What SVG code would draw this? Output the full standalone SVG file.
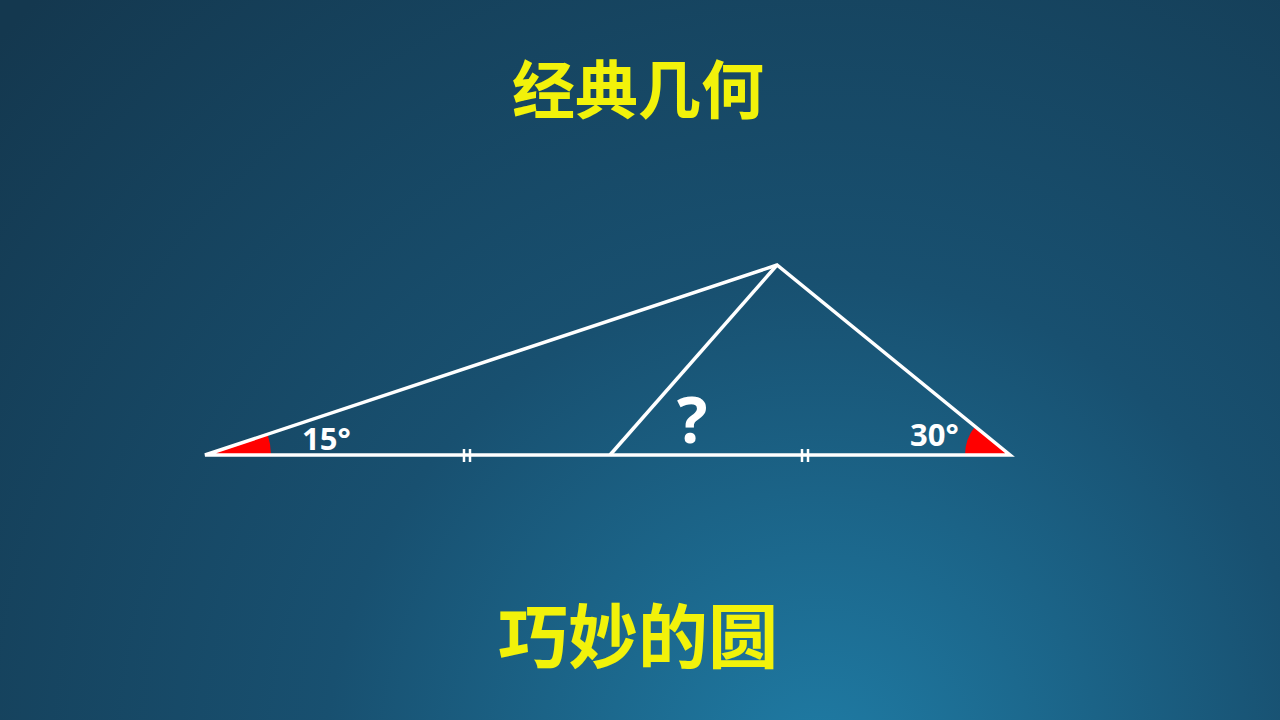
<svg xmlns="http://www.w3.org/2000/svg" width="1280" height="720" viewBox="0 0 1280 720">
<defs>
<radialGradient id="bg" cx="820" cy="770" r="1100" gradientUnits="userSpaceOnUse">
<stop offset="0" stop-color="#1f7ca5"/>
<stop offset="0.45" stop-color="#185070"/>
<stop offset="1" stop-color="#14384f"/>
</radialGradient>
<style>
.title{font-family:"Noto Sans CJK SC","Noto Sans",sans-serif;font-weight:bold;fill:#f2f20a;text-anchor:middle}
.edge{stroke:#ffffff;stroke-width:3.5;fill:none;stroke-linejoin:miter}
.tick{stroke:#ffffff;stroke-width:2.5}
.lbl{font-family:"Open Sans","Liberation Sans",sans-serif;font-weight:bold;fill:#ffffff}
.ang{fill:#ff0000}
</style>
</defs>
<rect width="1280" height="720" fill="url(#bg)"/>
<text class="title" x="638" y="113" font-size="63">经典几何</text>
<text class="title" x="638" y="663" font-size="70">巧妙的圆</text>
<g id="angles">
<path class="ang" d="M205,455 L271,455 A66,66 0 0 0 267.6,434.3 Z"/>
<path class="ang" d="M1010,455 L965,455 A45,45 0 0 1 975.1,426.5 Z"/>
</g>
<g id="connectors">
<path class="edge" d="M205,455 L1010,455 L777,265 Z"/>
<line class="edge" x1="610" y1="455" x2="777" y2="265"/>
<line class="tick" x1="464" y1="449" x2="464" y2="462"/>
<line class="tick" x1="470" y1="449" x2="470" y2="462"/>
<line class="tick" x1="802" y1="449" x2="802" y2="462"/>
<line class="tick" x1="808" y1="449" x2="808" y2="462"/>
</g>
<g id="labels">
<text class="lbl" x="302" y="450" font-size="31">15°</text>
<text class="lbl" x="910" y="446" font-size="31">30°</text>
<text class="lbl" x="677" y="443" font-size="64">?</text>
</g>
</svg>
